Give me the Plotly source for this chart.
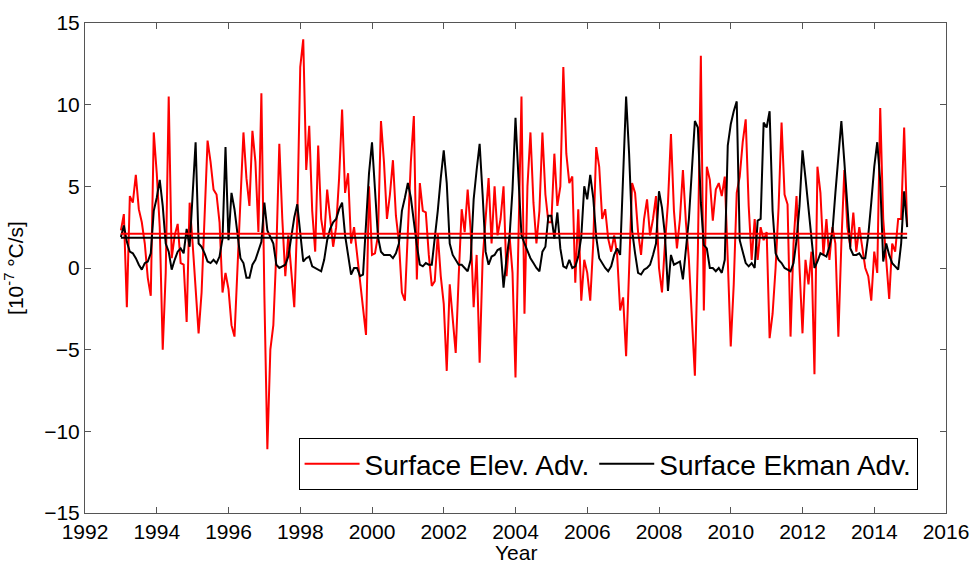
import numpy as np
import plotly.graph_objects as go

# Monthly advection terms, Jan 1993 - Dec 2014 [1e-7 degC/s]
elev_adv = [
    # 1993-1994
    2.3, 3.3, -2.4, 4.4, 4.0, 5.7, 3.6, 2.8, 1.5, -0.6, -1.7, 8.3,
    5.8, 2.5, -5.0, -0.3, 10.5, 0.6, 2.0, 2.7, 0.3, 0.2, -3.3, 4.0,
    # 1995-1996
    1.5, -1.0, -4.0, -1.5, 3.0, 7.8, 6.5, 4.8, 4.5, 2.8, -1.5, -0.3,
    -1.3, -3.5, -4.2, 0.0, 3.5, 8.3, 5.5, 3.8, 8.4, 6.5, 2.2, 10.7,
    # 1997-1998
    -1.7, -11.1, -5.0, -3.5, 1.0, 7.6, 3.0, -0.5, 2.0, 0.0, -2.4, 3.0,
    12.3, 14.0, 6.0, 8.7, 3.5, 1.0, 7.5, 3.0, 1.8, 4.8, 3.0, 1.3,
    # 1999-2000
    2.5, 5.5, 9.7, 4.6, 5.8, 1.5, 2.5, 0.8, -0.5, -2.5, -4.1, 5.0,
    0.8, 0.9, 2.0, 9.0, 6.5, 3.0, 4.5, 6.6, 3.2, 1.6, -1.5, -2.0,
    # 2001-2002
    2.0, 6.5, 9.3, -0.7, 5.2, 3.5, 3.4, 0.8, -1.1, -0.8, 2.1, -0.5,
    -2.2, -6.3, -1.0, -3.0, -5.2, -0.5, 3.6, 2.2, 4.8, 2.3, -2.4, 0.8,
    # 2003-2004
    -5.8, 0.5, 3.0, 5.5, 1.5, 5.0, 2.0, 3.0, 5.0, -0.5, 2.0, -0.3,
    -6.7, 2.5, 10.5, -2.8, 5.0, 8.3, 4.0, 1.5, 3.5, 8.3, 4.5, 2.8,
    # 2005-2006
    2.8, 7.0, 3.8, 5.0, 12.3, 7.0, 5.2, 5.6, -0.9, 3.6, -2.0, 0.5,
    -0.3, -2.0, 1.5, 7.4, 6.2, 3.0, 3.6, 1.8, 1.0, 2.0, 0.8, -2.6,
    # 2007-2008
    -1.8, -5.4, -0.5, 5.2, 4.6, 2.2, 0.8, 3.0, 4.2, 2.0, 3.0, 4.4,
    0.0, -1.5, 1.5, 4.0, 8.2, 3.5, 1.2, 3.0, 6.0, 2.8, 0.5, -2.8,
    # 2009-2010
    -6.6, 1.0, 13.0, -2.6, 6.2, 5.4, 2.9, 4.8, 5.2, 4.4, 5.6, 0.5,
    -4.8, -1.0, 4.6, 5.6, 7.7, 9.1, 3.8, 0.5, 3.0, 0.5, 2.5, 1.7,
    # 2011-2012
    2.2, -4.3, -2.8, 0.0, 3.7, 8.9, 4.5, 3.9, -4.2, 1.5, 4.4, 0.0,
    -4.0, 0.5, -1.0, 1.0, -6.5, 6.2, 4.6, 0.8, 3.0, 0.5, 2.5, 1.5,
    # 2013-2014
    -4.2, 1.5, 6.0, 2.5, 1.3, 3.4, 1.0, 2.5, 1.2, 0.0, -0.5, -2.0,
    1.0, -0.3, 9.8, 3.0, 0.5, -1.9, 1.5, 1.0, 3.0, 3.0, 8.6, 2.6,
]

ekman_adv = [
    # 1993-1994
    1.9, 2.6, 1.6, 1.0, 0.9, 0.6, 0.2, -0.1, 0.3, 0.4, 0.9, 3.5,
    4.3, 5.4, 3.8, 1.5, 1.0, -0.1, 0.5, 1.0, 1.2, 0.9, 2.4, 1.3,
    # 1995-1996
    4.5, 7.7, 1.5, 1.3, 0.9, 0.4, 0.3, 0.5, 0.3, 0.7, 1.8, 7.4,
    1.7, 4.6, 3.6, 2.2, 0.6, 0.3, -0.6, -0.6, 0.2, 0.5, 1.0, 1.6,
    # 1997-1998
    4.0, 2.3, 1.9, 1.5, 0.2, 0.0, 0.1, 0.2, 0.7, 1.8, 3.1, 3.9,
    2.2, 0.4, 0.6, 0.7, 0.1, 0.0, -0.1, -0.2, 0.5, 1.7, 2.4, 2.8,
    # 1999-2000
    3.0, 3.6, 4.0, 2.0, 0.8, -0.4, 0.0, 0.0, -0.5, -0.4, 2.7, 5.8,
    7.7, 5.0, 1.9, 1.0, 0.8, 0.8, 0.8, 0.6, 0.9, 1.5, 3.5, 4.3,
    # 2001-2002
    5.2, 4.3, 2.8, 1.4, 0.2, 0.1, 0.3, 0.2, 0.2, 1.7, 3.5, 5.5,
    7.2, 5.2, 1.5, 0.8, 0.5, 0.2, 0.2, 0.0, -0.2, 0.5, 4.2, 6.0,
    # 2003-2004
    7.6, 4.5, 1.0, 0.2, 0.7, 0.8, 1.1, 1.2, -1.2, 0.6, 1.9, 4.8,
    9.2, 5.5, 2.0, 1.5, 1.0, 0.6, 0.3, 0.0, -0.2, 1.0, 1.3, 3.2,
    # 2005-2006
    3.2, 1.8, 3.4, 1.2, 0.1, 0.0, 0.5, 0.0, 0.1, 0.7, 1.9, 5.0,
    4.2, 5.7, 4.3, 1.9, 0.6, 0.3, 0.0, -0.2, 0.1, 0.8, 1.2, 0.8,
    # 2007-2008
    6.0, 10.5, 7.0, 2.3, 0.9, -0.3, -0.4, -0.1, 0.0, 0.2, 0.8, 1.5,
    4.7, 3.7, 2.0, -1.4, 0.8, 0.2, 0.3, 0.4, -0.7, 1.0, 3.0, 6.0,
    # 2009-2010
    9.0, 8.6, 4.0, 1.4, 1.2, 0.0, 0.0, -0.2, 0.0, -0.3, 0.5, 7.5,
    8.8, 9.6, 10.2, 1.7, 1.0, 0.3, 0.1, 0.3, 0.0, 2.9, 3.0, 8.9,
    # 2011-2012
    8.6, 9.6, 3.5, 0.9, 0.5, 0.3, 0.0, -0.1, -0.2, 0.3, 1.7, 3.8,
    7.2, 5.5, 3.5, 1.5, 0.0, 0.4, 0.9, 0.8, 0.7, 1.3, 2.2, 4.6,
    # 2013-2014
    7.0, 9.0, 6.5, 3.5, 1.2, 0.8, 0.8, 0.9, 0.6, 0.6, 2.0, 4.0,
    6.2, 7.7, 5.3, 0.4, 1.5, 0.8, 0.3, 0.1, -0.1, 1.5, 4.7, 2.5,
]

# Long-term means drawn as horizontal reference lines
elev_mean = 2.1
ekman_mean = 1.85

start_year = 1993
x_ticks = list(range(1992, 2017, 2))
y_ticks = list(range(-15, 16, 5))

t = start_year + np.arange(len(elev_adv)) / 12.0

RED = "#ff0000"
BLACK = "#000000"
FONT = "Liberation Sans, Arial, sans-serif"

fig = go.Figure()
fig.add_trace(go.Scatter(x=t, y=elev_adv, mode="lines", name="Surface Elev. Adv.",
                         line=dict(color=RED, width=2)))
fig.add_trace(go.Scatter(x=t, y=ekman_adv, mode="lines", name="Surface Ekman Adv.",
                         line=dict(color=BLACK, width=2)))
fig.add_trace(go.Scatter(x=[t[0], t[-1]], y=[elev_mean, elev_mean], mode="lines",
                         showlegend=False, line=dict(color=RED, width=2)))
fig.add_trace(go.Scatter(x=[t[0], t[-1]], y=[ekman_mean, ekman_mean], mode="lines",
                         showlegend=False, line=dict(color=BLACK, width=2)))

axis_common = dict(
    showgrid=False, zeroline=False, showline=True, mirror="ticks",
    linecolor="#555555", linewidth=1, ticks="inside", ticklen=6,
    tickcolor="#555555", tickfont=dict(family=FONT, size=21, color="#000000"),
)

fig.update_xaxes(range=[1992, 2016], tickvals=x_ticks, automargin=False, **axis_common)
fig.update_yaxes(range=[-15, 15], tickvals=y_ticks,
                 title=dict(text="[10<sup>-7</sup> \u00b0C/s]",
                            font=dict(family=FONT, size=21, color="#000000"), standoff=14),
                 automargin=False, **axis_common)

# x-axis title placed just under the tick labels
fig.add_annotation(text="Year", xref="paper", yref="paper", x=0.5, y=-0.08,
                   xanchor="center", yanchor="middle", showarrow=False,
                   font=dict(family=FONT, size=21, color="#000000"))

fig.update_layout(
    width=974, height=562,
    margin=dict(l=85, r=28, t=23, b=49),
    paper_bgcolor="white", plot_bgcolor="white",
    showlegend=True,
    legend=dict(
        orientation="h", x=0.967, xanchor="right", y=0.047, yanchor="bottom",
        bgcolor="white", bordercolor="#000000", borderwidth=1,
        itemwidth=55,
        font=dict(family=FONT, size=28, color="#000000"),
    ),
)

fig.write_html("out.html")
